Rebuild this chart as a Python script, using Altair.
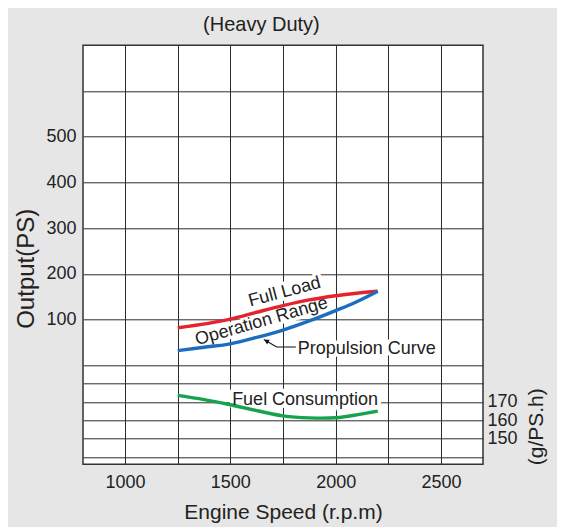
import altair as alt
import pandas as pd

# ---------------- data ----------------
full_rpm = [1250, 1500, 1625, 1750, 1875, 2000, 2100, 2200]
full_ps = [82, 101, 116, 130.5, 143, 152, 157.6, 162]

prop_rpm = [1250, 1375, 1500, 1625, 1750, 1875, 2000, 2100, 2200]
prop_ps = [32, 39.4, 47, 61, 77, 97, 119.6, 139, 162]

fuel_rpm = [1250, 1375, 1500, 1625, 1750, 1875, 2000, 2100, 2200]
fuel_val = [173.6, 171.3, 168.5, 165.3, 162.4, 161.3, 161.4, 163.0, 165.0]

ann_text = ["Full Load", "Operation Range", "Propulsion Curve"]
ann_rpm = [1758, 1648, 2148]
ann_ps = [160, 95.5, 36]
ann_angle = [345, 344, 0]

fuel_text = ["Fuel Consumption"]
fuel_text_rpm = [1855]
fuel_text_val = [171.3]

arrow_rpm = [1811, 1720, 1659]
arrow_ps = [40, 40, 56.5]
head_rpm = [1671]
head_ps = [53.2]

x_grid = [1000, 1250, 1500, 1750, 2000, 2250, 2500]
ps_grid = [0, 100, 200, 300, 400, 500, 600]
fuel_grid = [140, 150, 160, 170, 180]

series_names = ["Full Load", "Propulsion Curve"]
series_colors = ["#e6222c", "#1c6dc2"]
fuel_color = "#17a24e"

FONT = "Liberation Sans, Arial, Helvetica, sans-serif"
TXT = "#222222"
GRID = "#2b2b2b"

# ---------------- tables ----------------
out_df = pd.concat([
    pd.DataFrame({"series": "Full Load", "rpm": full_rpm, "ps": full_ps}),
    pd.DataFrame({"series": "Propulsion Curve", "rpm": prop_rpm, "ps": prop_ps}),
])
fuel_df = pd.DataFrame({"rpm": fuel_rpm, "fuel": fuel_val})
ann_df = pd.DataFrame({"label": ann_text, "rpm": ann_rpm, "ps": ann_ps, "angle": ann_angle})
fuel_ann_df = pd.DataFrame({"label": fuel_text, "rpm": fuel_text_rpm, "fuel": fuel_text_val})
arrow_df = pd.DataFrame({"rpm": arrow_rpm, "ps": arrow_ps, "order": list(range(len(arrow_rpm)))})
head_df = pd.DataFrame({"rpm": head_rpm, "ps": head_ps})

# ---------------- scales / axes ----------------
xs = alt.Scale(domain=[800, 2700], nice=False, zero=False)
ps_scale = alt.Scale(domain=[-216.6, 700], nice=False, zero=False)
fuel_scale = alt.Scale(domain=[136, 364.6], nice=False, zero=False)

x_axis = alt.Axis(
    values=x_grid, format="d",
    labelExpr="datum.value % 500 == 0 ? datum.label : ''",
    title="Engine Speed (r.p.m)", grid=True, ticks=False, domain=False,
    labelPadding=9, titlePadding=10, labelFontSize=18, titleFontSize=21,
    labelFont=FONT, titleFont=FONT, titleFontWeight="normal",
    labelColor=TXT, titleColor=TXT, gridColor=GRID, gridWidth=1, gridOpacity=1,
    labelOverlap=False,
)
ps_axis = alt.Axis(
    values=ps_grid, orient="left",
    labelExpr="datum.value >= 100 && datum.value <= 500 ? datum.label : ''",
    title="Output(PS)", grid=True, ticks=False, domain=False,
    labelPadding=7, titlePadding=7, titleY=223,
    labelFontSize=18, titleFontSize=24, labelFont=FONT, titleFont=FONT,
    titleFontWeight="normal", labelColor=TXT, titleColor=TXT,
    gridColor=GRID, gridWidth=1, gridOpacity=1, labelOverlap=False,
)
fuel_axis = alt.Axis(
    values=fuel_grid, orient="right",
    labelExpr="datum.value >= 150 && datum.value <= 170 ? datum.label : ''",
    title="(g/PS.h)", grid=True, ticks=False, domain=False,
    labelPadding=4, titlePadding=8, titleAngle=270, titleBaseline="top", titleY=381,
    labelFontSize=18, titleFontSize=21, labelFont=FONT, titleFont=FONT,
    titleFontWeight="normal", labelColor=TXT, titleColor=TXT, labelAlign="left",
    gridColor=GRID, gridWidth=1, gridOpacity=1, labelOverlap=False,
)

X = alt.X("rpm:Q", scale=xs, axis=x_axis)
Yps = alt.Y("ps:Q", scale=ps_scale, axis=ps_axis)
Yfuel = alt.Y("fuel:Q", scale=fuel_scale, axis=fuel_axis)

# ---------------- output (PS) group ----------------
ann_halo = alt.Chart(ann_df).mark_text(
    font=FONT, fontSize=18, align="center", baseline="middle",
    stroke="white", strokeWidth=7, strokeJoin="round", fill="white",
).encode(x=X, y=Yps, text="label:N", angle=alt.Angle("angle:Q", scale=None))

lines = alt.Chart(out_df).mark_line(strokeWidth=3.4, interpolate="monotone").encode(
    x=X, y=Yps,
    color=alt.Color("series:N", scale=alt.Scale(domain=series_names, range=series_colors), legend=None),
)
arrow = alt.Chart(arrow_df).mark_line(color="#111111", strokeWidth=1.1).encode(
    x=X, y=Yps, order="order:Q",
)
head = alt.Chart(head_df).mark_point(
    shape="triangle-up", filled=True, size=28, angle=300, color="#111111", opacity=1,
).encode(x=X, y=Yps)
ann = alt.Chart(ann_df).mark_text(
    font=FONT, fontSize=18, align="center", baseline="middle", fill=TXT,
).encode(x=X, y=Yps, text="label:N", angle=alt.Angle("angle:Q", scale=None))

ps_group = alt.layer(ann_halo, lines, arrow, head, ann)

# ---------------- fuel group ----------------
fuel_halo = alt.Chart(fuel_ann_df).mark_text(
    font=FONT, fontSize=18, align="center", baseline="middle",
    stroke="white", strokeWidth=8, strokeJoin="round", fill="white",
).encode(x=X, y=Yfuel, text="label:N")
fuel_line = alt.Chart(fuel_df).mark_line(strokeWidth=3.4, interpolate="natural", color=fuel_color).encode(
    x=X, y=Yfuel,
)
fuel_lab = alt.Chart(fuel_ann_df).mark_text(
    font=FONT, fontSize=18, align="center", baseline="middle", fill=TXT,
).encode(x=X, y=Yfuel, text="label:N")
fuel_group = alt.layer(fuel_halo, fuel_line, fuel_lab)

chart = alt.layer(ps_group, fuel_group).resolve_scale(y="independent").resolve_axis(y="independent").properties(
    width=400,
    height=419,
    padding={"left": 75, "top": 37.3, "right": 74, "bottom": 63},
    autosize=alt.AutoSizeParams(type="none"),
    title=alt.TitleParams(
        "(Heavy Duty)", font=FONT, fontSize=20, fontWeight="normal", color=TXT,
        anchor="middle", dx=-21.6, offset=10, frame="group",
    ),
).configure(background="#e6e6e6").configure_view(fill="white", stroke="#333333", strokeWidth=1.5)

chart.save("out.html", embed_options={"renderer": "svg", "actions": False})
